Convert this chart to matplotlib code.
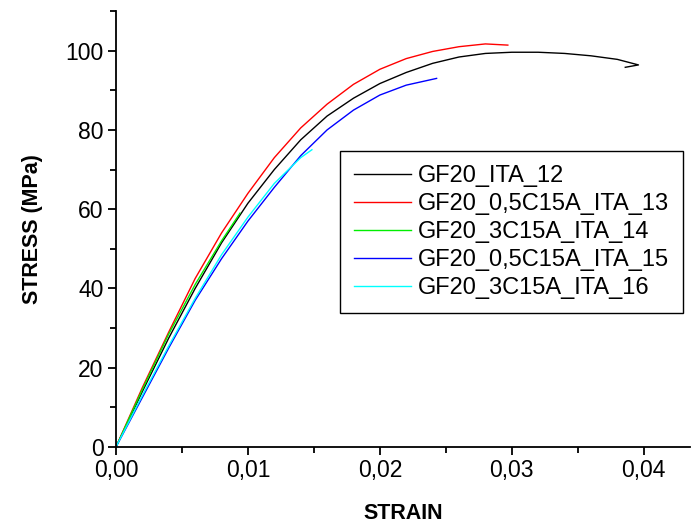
import matplotlib.pyplot as plt
from matplotlib.ticker import MultipleLocator, FuncFormatter

plt.rcParams['font.family'] = ['Liberation Sans', 'DejaVu Sans']

# strain / stress readings (MPa)
strain_12 = [0, 0.002, 0.004, 0.006, 0.008, 0.010, 0.012, 0.014, 0.016, 0.018, 0.020,
             0.022, 0.024, 0.026, 0.028, 0.030, 0.032, 0.034, 0.036, 0.038, 0.0396, 0.0386]
stress_12 = [0, 14, 27.5, 40, 51.5, 61.5, 70, 77.5, 83.5, 88, 91.7,
             94.5, 96.8, 98.4, 99.3, 99.6, 99.6, 99.3, 98.7, 97.8, 96.4, 95.8]

strain_13 = [0, 0.002, 0.004, 0.006, 0.008, 0.010, 0.012, 0.014, 0.016, 0.018, 0.020,
             0.022, 0.024, 0.026, 0.028, 0.0297]
stress_13 = [0, 15, 29, 42.5, 54, 64, 73, 80.5, 86.5, 91.5, 95.3,
             98, 99.8, 101, 101.7, 101.4]

strain_14 = [0, 0.002, 0.004, 0.006, 0.008, 0.0094]
stress_14 = [0, 14.5, 28.5, 41, 52, 59]

strain_15 = [0, 0.002, 0.004, 0.006, 0.008, 0.010, 0.012, 0.014, 0.016, 0.018, 0.020,
             0.022, 0.0243]
stress_15 = [0, 12.5, 25, 37, 47.5, 57, 65.5, 73.5, 80, 85, 88.8, 91.3, 93]

strain_16 = [0, 0.002, 0.004, 0.006, 0.008, 0.010, 0.012, 0.014, 0.01485]
stress_16 = [0, 13, 25.5, 37.5, 48.5, 58, 66.5, 73, 75]

series = [
    (strain_12, stress_12, 'black', 'GF20_ITA_12'),
    (strain_13, stress_13, 'red', 'GF20_0,5C15A_ITA_13'),
    (strain_14, stress_14, '#00ee00', 'GF20_3C15A_ITA_14'),
    (strain_15, stress_15, 'blue', 'GF20_0,5C15A_ITA_15'),
    (strain_16, stress_16, 'cyan', 'GF20_3C15A_ITA_16'),
]

fig = plt.figure(figsize=(6.92, 5.25), dpi=100)
ax = fig.add_axes([0.1676, 0.1486, 0.8294, 0.8304])

for x, y, c, lab in series:
    ax.plot(x, y, color=c, lw=1.0, label=lab)

ax.set_xlim(0, 0.0435)
ax.set_ylim(0, 110)
ax.xaxis.set_major_locator(MultipleLocator(0.01))
ax.xaxis.set_minor_locator(MultipleLocator(0.005))
ax.yaxis.set_major_locator(MultipleLocator(20))
ax.yaxis.set_minor_locator(MultipleLocator(10))
ax.xaxis.set_major_formatter(FuncFormatter(lambda v, p: f'{v:.2f}'.replace('.', ',')))

for s in ['top', 'right']:
    ax.spines[s].set_visible(False)
for s in ['left', 'bottom']:
    ax.spines[s].set_linewidth(1.3)

ax.tick_params(which='major', direction='out', length=6, width=1.3, labelsize=16.5, pad=3)
ax.tick_params(which='minor', direction='out', length=4, width=1.3)

ax.set_xlabel('STRAIN', fontsize=15.5, fontweight='bold', labelpad=15)
ax.set_ylabel('STRESS (MPa)', fontsize=15.5, fontweight='bold', labelpad=16)

leg = ax.legend(loc='upper left', bbox_to_anchor=(0.4913, 0.7124),
                bbox_transform=fig.transFigure, fontsize=17, fancybox=False,
                edgecolor='black', framealpha=1, handlelength=2.4,
                handletextpad=0.3, labelspacing=0.25, borderpad=0.6,
                borderaxespad=0)
leg.get_frame().set_linewidth(1.0)

fig.savefig('out.png', dpi=100)
